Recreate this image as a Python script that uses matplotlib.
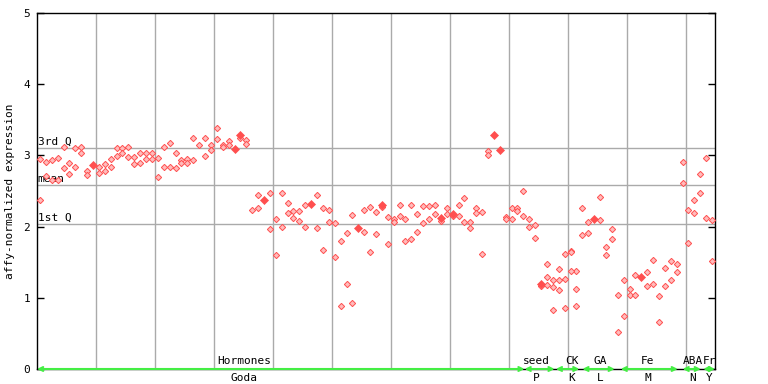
#!/usr/bin/env python3
"""
Affy-normalized expression across sample columns (Goda hormone set etc.).
"""

import numpy as np
import matplotlib
matplotlib.use("Agg")
import matplotlib.pyplot as plt

matplotlib.rcParams['font.family'] = 'DejaVu Sans Mono'
matplotlib.rcParams['font.size'] = 8

nan = np.nan

# replicate values per sample column (nan = no point)
rep1 = [2.95, 2.91, 2.93, 2.96, 3.12, 2.90, 3.10, 3.12, 2.78, nan,
        2.84, 2.88, 2.95, 3.10, 3.10, 3.12, 2.98, 3.04, 3.04, 3.04,
        2.96, 3.12, 3.17, 3.03, 2.94, 2.95, 3.24, 3.14, 3.24, 3.14,
        3.38, 3.14, 3.20, nan, 3.25, 3.22, 2.23, 2.45, nan, 2.47,
        2.10, 2.47, 2.33, 2.22, 2.22, 2.30, nan, 2.45, 2.26, 2.23,
        2.05, 1.80, 1.91, 2.16, nan, 2.23, 2.27, 2.20, 2.28, 2.13,
        2.10, 2.31, 2.10, 2.30, 2.17, 2.29, 2.29, 2.31, 2.08, 2.26,
        2.15, 2.30, 2.40, 2.06, 2.26, 2.20, 3.06, nan, nan, 2.13,
        2.26, 2.26, 2.50, 2.10, 2.02, 1.17, 1.47, 1.25, 1.40, 1.61,
        1.66, 1.37, 2.26, 2.06, nan, 2.41, 1.72, 1.96, 1.04, 1.25,
        1.12, 1.32, nan, 1.36, 1.53, 1.02, 1.42, 1.51, 1.47, 2.91,
        2.24, 2.37, 2.74, 2.96, 2.09]
rep2 = [2.37, 2.71, 2.65, 2.66, 2.82, 2.74, 2.84, 3.03, 2.72, nan,
        2.75, 2.78, 2.84, 2.99, 3.04, 2.98, 2.88, 2.90, 2.95, 2.95,
        2.70, 2.84, 2.84, 2.83, 2.90, 2.89, 2.93, nan, 2.99, 3.07,
        3.23, 3.12, 3.14, nan, nan, 3.16, nan, 2.26, nan, 1.96,
        1.60, 1.99, 2.19, 2.12, 2.08, 2.00, nan, 1.98, 1.67, 2.06,
        1.58, 0.89, 1.20, 0.92, nan, 1.92, 1.65, 1.89, nan, 1.75,
        2.07, 2.15, 1.80, 1.82, 1.92, 2.05, 2.10, 2.17, nan, 2.17,
        nan, 2.15, 2.07, 1.98, 2.19, 1.61, 3.00, nan, nan, 2.10,
        2.11, 2.22, 2.15, 2.00, 1.84, nan, 1.29, 1.15, 1.25, 1.26,
        1.64, 1.12, 1.88, 1.91, nan, 2.09, 1.60, 1.82, 0.52, 0.75,
        1.04, 1.04, nan, 1.16, 1.19, 0.66, 1.16, 1.25, 1.36, 2.61,
        1.77, 2.19, 2.47, 2.12, 1.51]
# third replicate only in the seed / CK columns (85..91)
rep3_cols = [86, 87, 88, 89, 90, 91]
rep3 = [1.18, 0.83, 1.11, 0.85, 1.37, 0.89]
# solid markers
solid_cols = [9, 33, 34, 38, 46, 54, 58, 68, 70, 77, 78, 85, 94, 102]
solid_vals = [2.87, 3.09, 3.28, 2.38, 2.32, 1.98, 2.31, 2.12, 2.17, 3.29,
              3.08, 1.20, 2.10, 1.29]

# summary lines
q3, mean_val, q1 = 3.10, 2.58, 2.04

# experiment groups along the bottom
group_top = ["Hormones", "seed", "CK", "GA", "Fe", "ABA", "Fr"]
group_bottom = ["Goda", "P", "K", "L", "M", "N", "Y"]
group_start = [0, 82.7, 88.0, 92.5, 99.0, 109.5, 113.0]
group_end = [82.7, 87.8, 92.0, 98.0, 108.7, 112.6, 115.0]
label_pos = [35.1, 84.7, 90.7, 95.6, 103.6, 111.2, 114.1]

n = len(rep1)
RED = '#ff4f4f'
GRID = '#aaaaaa'
GREEN = '#44ee44'


def main():
    fig = plt.figure(figsize=(7.68, 3.84), dpi=100)
    ax = fig.add_axes([37 / 768, 15 / 384, 678 / 768, 356 / 384])

    x = np.arange(n) + 0.5

    # grid
    for gx in range(10, 115, 10):
        ax.axvline(gx, color=GRID, lw=1.0, zorder=1)
    for yv, lab in [(q3, '3rd Q'), (mean_val, 'mean'), (q1, '1st Q')]:
        ax.axhline(yv, color=GRID, lw=1.0, zorder=1)
        ax.text(0.1, yv + 0.02, lab, ha='left', va='bottom', fontsize=8, zorder=2)

    mk = dict(marker='D', ls='none', ms=3.2, mfc='#ffbcbc', mec=RED, mew=0.7, zorder=3)
    ax.plot(x, rep1, **mk)
    ax.plot(x, rep2, **mk)
    ax.plot(np.array(rep3_cols) + 0.5, rep3, **mk)
    ax.plot(np.array(solid_cols) + 0.5, solid_vals, marker='D', ls='none', ms=3.8,
            mfc=RED, mec=RED, mew=0.5, zorder=4)

    # group arrows and labels
    for i in range(len(group_top)):
        ax.annotate('', xy=(group_start[i], 0), xytext=(group_end[i], 0),
                    arrowprops=dict(arrowstyle='<->', color=GREEN, lw=1.5,
                                    shrinkA=0, shrinkB=0, mutation_scale=7),
                    annotation_clip=False, zorder=6)
        ax.text(label_pos[i], 0.04, group_top[i], ha='center', va='bottom', fontsize=8)
        ax.text(label_pos[i], -0.06, group_bottom[i], ha='center', va='top',
                fontsize=8, clip_on=False)

    ax.set_xlim(0, 115)
    ax.set_ylim(0, 5)
    ax.set_xticks([])
    ax.set_yticks([0, 1, 2, 3, 4, 5])
    ax.tick_params(axis='y', direction='in', length=5, width=1, right=True,
                   labelright=False, pad=5, labelsize=8)
    ax.set_ylabel('affy-normalized expression', fontsize=8, labelpad=6)
    for s in ax.spines.values():
        s.set_linewidth(1.0)
        s.set_color('black')

    fig.savefig('out.png', dpi=100)
    plt.close(fig)


if __name__ == "__main__":
    main()
